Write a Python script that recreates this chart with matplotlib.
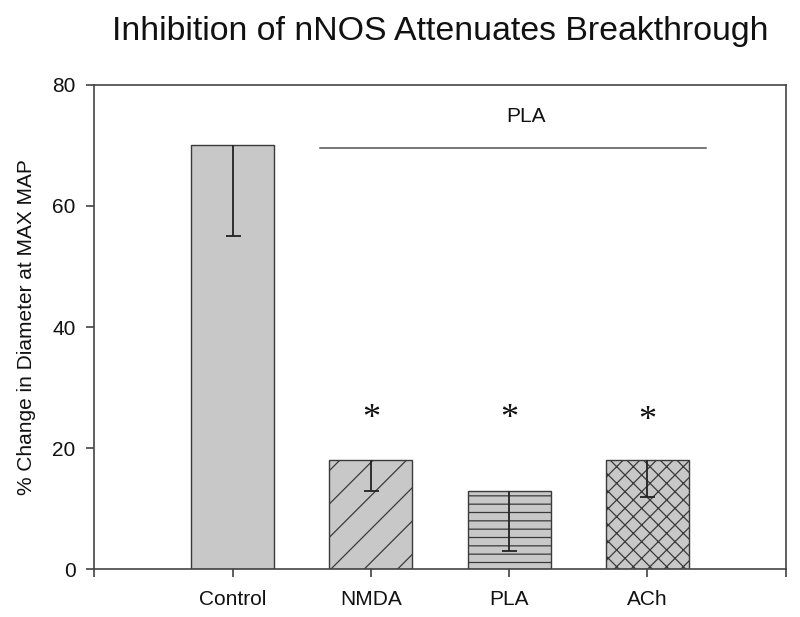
import matplotlib
matplotlib.use("Agg")
import matplotlib.pyplot as plt
import numpy as np

plt.rcParams['font.family'] = ['Liberation Sans', 'DejaVu Sans']
plt.rcParams['hatch.linewidth'] = 0.9

categories = ["Control", "NMDA", "PLA", "ACh"]
values = [70, 18, 13, 18]
err_lower = [15, 5, 10, 6]
hatches = ["", "/", "--", "xx"]
sig = [False, True, True, True]
star_y = [0, 24.8, 24.8, 24.4]
bracket_label = "PLA"
bracket_y = 69.6
bracket_x = (0.63, 3.42)
bracket_text_x = 2.12
bracket_text_y = 74.7
title = "Inhibition of nNOS Attenuates Breakthrough"
ylabel = "% Change in Diameter at MAX MAP"
yticks = [0, 20, 40, 60, 80]

fig = plt.figure(figsize=(8.0, 6.17), dpi=100)
ax = fig.add_axes([0.1179, 0.077, 0.8643, 0.786])

x = list(range(len(categories)))
ax.bar(x, values, width=0.6, color="#c8c8c8", edgecolor="#3a3a3a",
       linewidth=1.0, hatch=hatches, zorder=2)
_, caps, _ = ax.errorbar(x, values, yerr=[err_lower, [0] * len(values)], fmt="none",
                         ecolor="#222222", elinewidth=1.3, capsize=5.4, capthick=1.3, zorder=3)
for c in caps:
    if np.allclose(c.get_ydata(), values):
        c.remove()

for xi, s, sy in zip(x, sig, star_y):
    if s:
        ax.text(xi, sy, "*", ha="center", va="center", fontsize=26, color="#111111",
                family=["Liberation Serif", "DejaVu Serif"])

ax.plot(bracket_x, [bracket_y, bracket_y], color="#555555", lw=1.1)
ax.text(bracket_text_x, bracket_text_y, bracket_label,
        ha="center", va="center", fontsize=15, color="#111111")

ax.set_xlim(-1, 4)
ax.set_ylim(0, 80)
ax.set_yticks(yticks)
ax.set_xticks([-1] + x + [4])
ax.set_xticklabels([""] + categories + [""])
ax.tick_params(direction="out", length=5.5, width=1.1, labelsize=15,
               colors="#333333", labelcolor="#111111")
ax.tick_params(axis="x", pad=9)
ax.tick_params(axis="y", pad=8)
for sp in ax.spines.values():
    sp.set_color("#444444")
    sp.set_linewidth(1.2)

ax.set_ylabel(ylabel, fontsize=15, color="#111111", labelpad=12)
fig.text(0.55, 0.935, title, ha="center", va="baseline", fontsize=24.4, color="#111111")

fig.savefig("out.png", dpi=100)
